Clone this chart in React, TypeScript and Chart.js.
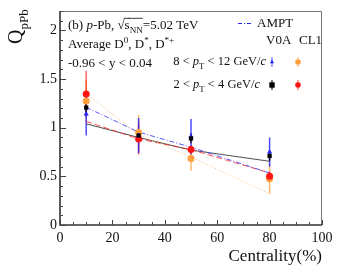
import React, { useEffect, useRef } from "react";
import { Chart, registerables } from "chart.js";

Chart.register(...registerables);

const centrality = [10, 30, 50, 80];

const v0aHigh = [1.14, 0.92, 0.91, 0.75];
const v0aHighErr = [0.22, 0.18, 0.18, 0.15];
const v0aLow = [1.207, 0.92, 0.89, 0.71];
const v0aLowErr = [0.05, 0.05, 0.05, 0.05];
const cl1High = [1.275, 0.95, 0.684, 0.475];
const cl1HighErr = [0.22, 0.18, 0.13, 0.155];
const cl1Low = [1.347, 0.885, 0.776, 0.5];
const cl1LowErr = [0.24, 0.16, 0.05, 0.05];

const lineBlack = [1.04, 0.9, 0.77, 0.655];
const lineRed = [1.065, 0.885, 0.775, 0.535];
const lineAmpt = [1.21, 0.955, 0.8, 0.535];
const lineOrange = [1.35, 0.93, 0.7, 0.32];

const xTicks = [0, 20, 40, 60, 80, 100];
const yTicks = [0, 0.5, 1, 1.5, 2];

const FONT = '"Liberation Serif", "Times New Roman", serif';
const BLUE = "rgb(40,40,255)";
const RED = "rgb(255,20,20)";
const ORANGE = "rgb(255,160,60)";
const BLACK = "rgb(0,0,0)";

type Seg = { t: string; it?: boolean; sub?: boolean; sup?: boolean; over?: boolean };

function richWidth(ctx: CanvasRenderingContext2D, segs: Seg[], size: number) {
  let w = 0;
  for (const s of segs) {
    const sz = s.sub || s.sup ? size * 0.7 : size;
    ctx.font = `${s.it ? "italic " : ""}${sz}px ${FONT}`;
    w += ctx.measureText(s.t).width;
  }
  return w;
}

function drawRich(ctx: CanvasRenderingContext2D, x: number, y: number, segs: Seg[], size: number) {
  let cx = x;
  for (const s of segs) {
    const sz = s.sub || s.sup ? size * 0.7 : size;
    ctx.font = `${s.it ? "italic " : ""}${sz}px ${FONT}`;
    const dy = s.sub ? size * 0.3 : s.sup ? -size * 0.4 : 0;
    ctx.fillText(s.t, cx, y + dy);
    const w = ctx.measureText(s.t).width;
    if (s.over) {
      ctx.save();
      ctx.lineWidth = 0.8;
      ctx.beginPath();
      ctx.moveTo(cx - 1, y - size * 0.82);
      ctx.lineTo(cx + w, y - size * 0.82);
      ctx.stroke();
      ctx.restore();
    }
    cx += w;
  }
  return cx - x;
}

const decorPlugin = {
  id: "decor",
  beforeDatasetsDraw(chart: any) {
    const ctx: CanvasRenderingContext2D = chart.ctx;
    const xs = chart.scales.x;
    const ys = chart.scales.y;
    const sets: [number[], number[], string, number][] = [
      [cl1High, cl1HighErr, "rgba(255,160,60,0.75)", 1.5],
      [cl1Low, cl1LowErr, "rgba(255,0,0,0.6)", 1.5],
      [v0aHigh, v0aHighErr, "rgba(30,30,255,0.8)", 1.5],
      [v0aLow, v0aLowErr, "rgba(0,0,0,0.8)", 1.5],
    ];
    ctx.save();
    for (const [vals, errs, col, lw] of sets) {
      ctx.strokeStyle = col;
      ctx.lineWidth = lw;
      vals.forEach((v, i) => {
        const px = xs.getPixelForValue(centrality[i]);
        ctx.beginPath();
        ctx.moveTo(px, ys.getPixelForValue(v - errs[i]));
        ctx.lineTo(px, ys.getPixelForValue(v + errs[i]));
        ctx.stroke();
      });
    }
    ctx.restore();
  },
  afterDraw(chart: any) {
    const ctx: CanvasRenderingContext2D = chart.ctx;
    const xs = chart.scales.x;
    const ys = chart.scales.y;
    const a = chart.chartArea;
    ctx.save();
    // frame
    ctx.strokeStyle = "#777";
    ctx.lineWidth = 1;
    ctx.beginPath();
    ctx.moveTo(a.left, a.top + 0.5);
    ctx.lineTo(a.right - 0.5, a.top + 0.5);
    ctx.lineTo(a.right - 0.5, a.bottom);
    ctx.stroke();
    ctx.strokeStyle = "#333";
    ctx.lineWidth = 1.6;
    ctx.beginPath();
    ctx.moveTo(a.left, a.top);
    ctx.lineTo(a.left, a.bottom);
    ctx.lineTo(a.right, a.bottom);
    ctx.stroke();
    // ticks
    ctx.lineWidth = 1;
    ctx.strokeStyle = "#444";
    for (let v = 0; v <= 100; v += 5) {
      const px = Math.round(xs.getPixelForValue(v)) + 0.5;
      const len = v % 20 === 0 ? 5 : 3;
      ctx.beginPath();
      ctx.moveTo(px, a.bottom);
      ctx.lineTo(px, a.bottom - len);
      ctx.stroke();
    }
    for (let k = 0; k <= 22; k++) {
      const v = k / 10;
      const py = Math.round(ys.getPixelForValue(v)) + 0.5;
      const len = k % 5 === 0 ? 6 : 3;
      ctx.beginPath();
      ctx.moveTo(a.left, py);
      ctx.lineTo(a.left + len, py);
      ctx.stroke();
    }
    // tick labels
    ctx.fillStyle = "#111";
    ctx.font = `14px ${FONT}`;
    ctx.textAlign = "center";
    ctx.textBaseline = "alphabetic";
    for (const v of xTicks) ctx.fillText(String(v), xs.getPixelForValue(v), a.bottom + 17);
    ctx.textAlign = "right";
    ctx.textBaseline = "middle";
    for (const v of yTicks) ctx.fillText(String(v), a.left - 3, ys.getPixelForValue(v));
    // axis titles
    ctx.textBaseline = "alphabetic";
    ctx.font = `17px ${FONT}`;
    ctx.textAlign = "right";
    ctx.fillText("Centrality(%)", a.right, a.bottom + 36);
    ctx.save();
    ctx.translate(22, 44);
    ctx.rotate(-Math.PI / 2);
    ctx.textAlign = "left";
    ctx.font = `20px ${FONT}`;
    ctx.fillText("Q", 0, 0);
    const qw = ctx.measureText("Q").width;
    ctx.font = `13px ${FONT}`;
    ctx.fillText("pPb", qw, 6);
    ctx.restore();
    // legend text
    ctx.textAlign = "left";
    ctx.fillStyle = "#111";
    ctx.strokeStyle = "#111";
    const size = 13;
    drawRich(ctx, 68, 29, [
      { t: "(b) " },
      { t: "p", it: true },
      { t: "-Pb, " },
      { t: "\u221A" },
      { t: "s", over: true },
      { t: "NN", sub: true, over: true },
      { t: "=5.02 TeV" },
    ], size);
    drawRich(ctx, 68, 48, [
      { t: "Average D" },
      { t: "0", sup: true },
      { t: ", D" },
      { t: "*", sup: true },
      { t: ", D" },
      { t: "*+", sup: true },
    ], size);
    drawRich(ctx, 68, 67, [{ t: "-0.96 < y < 0.04" }], size);
    drawRich(ctx, 257, 27, [{ t: "AMPT" }], size);
    drawRich(ctx, 266, 44, [{ t: "V0A" }], size);
    drawRich(ctx, 299, 44, [{ t: "CL1" }], size);
    const l1: Seg[] = [
      { t: "8 < " },
      { t: "p", it: true },
      { t: "T", sub: true },
      { t: " < 12 GeV/" },
      { t: "c", it: true },
    ];
    const l2: Seg[] = [
      { t: "2 < " },
      { t: "p", it: true },
      { t: "T", sub: true },
      { t: " < 4 GeV/" },
      { t: "c", it: true },
    ];
    const ls = 12.5;
    drawRich(ctx, 266 - richWidth(ctx, l1, ls), 65, l1, ls);
    drawRich(ctx, 260 - richWidth(ctx, l2, ls), 88, l2, ls);
    // AMPT line sample
    ctx.strokeStyle = BLUE;
    ctx.lineWidth = 1;
    ctx.setLineDash([4, 2, 1, 2]);
    ctx.beginPath();
    ctx.moveTo(238, 23.5);
    ctx.lineTo(253, 23.5);
    ctx.stroke();
    ctx.setLineDash([]);
    // legend markers
    const mk = (x: number, y: number, col: string, bar: string, shape: string) => {
      ctx.strokeStyle = bar;
      ctx.lineWidth = 1.3;
      ctx.beginPath();
      ctx.moveTo(x, y - 5);
      ctx.lineTo(x, y + 5);
      ctx.stroke();
      ctx.fillStyle = col;
      ctx.beginPath();
      if (shape === "rect") ctx.rect(x - 2.7, y - 2.7, 5.4, 5.4);
      else if (shape === "tri") {
        ctx.moveTo(x, y - 2.5);
        ctx.lineTo(x + 2.2, y + 1.3);
        ctx.lineTo(x - 2.2, y + 1.3);
        ctx.closePath();
      } else ctx.arc(x, y, 2.8, 0, Math.PI * 2);
      ctx.fill();
    };
    mk(272, 62, BLUE, "rgba(30,30,255,0.6)", "tri");
    mk(298, 62, ORANGE, "rgba(255,160,60,0.6)", "circ");
    mk(272, 85, BLACK, "rgba(0,0,0,0.8)", "rect");
    mk(298, 85, RED, "rgba(255,0,0,0.6)", "circ");
    ctx.restore();
  },
};

const toXY = (vals: number[]) => vals.map((v, i) => ({ x: centrality[i], y: v }));

export default function App() {
  const ref = useRef<HTMLCanvasElement | null>(null);
  useEffect(() => {
    document.body.style.margin = "0";
    if (!ref.current) return;
    const lineDs = (data: number[], color: string, dash: number[], order: number) => ({
      type: "line" as const,
      data: toXY(data),
      borderColor: color,
      borderWidth: 1,
      borderDash: dash,
      pointRadius: 0,
      fill: false,
      order,
    });
    const ptDs = (data: number[], color: string, style: string, r: number, order: number) => ({
      type: "scatter" as const,
      data: toXY(data),
      backgroundColor: color,
      borderColor: color,
      borderWidth: 0,
      pointStyle: style,
      pointRadius: r,
      showLine: false,
      order,
    });
    const chart = new Chart(ref.current, {
      type: "scatter",
      data: {
        datasets: [
          lineDs(lineBlack, "rgba(60,60,60,0.9)", [], 10),
          lineDs(lineRed, "rgba(255,40,40,0.8)", [6, 3], 9),
          lineDs(lineAmpt, "rgba(60,60,255,0.85)", [5, 2, 1, 2], 8),
          lineDs(lineOrange, "rgba(255,170,90,0.8)", [1, 2], 7),
          ptDs(cl1High, ORANGE, "circle", 3.5, 4),
          ptDs(cl1Low, RED, "circle", 3.5, 3),
          ptDs(v0aHigh, BLUE, "triangle", 3, 2),
          ptDs(v0aLow, BLACK, "rect", 3, 1),
        ] as any,
      },
      options: {
        animation: false,
        responsive: false,
        layout: { padding: { left: 60, right: 17, top: 11, bottom: 49 } },
        plugins: { legend: { display: false }, tooltip: { enabled: false } },
        scales: {
          x: { type: "linear", min: 0, max: 100, display: false },
          y: { type: "linear", min: 0, max: 2.2, display: false },
        },
      },
      plugins: [decorPlugin],
    });
    return () => chart.destroy();
  }, []);
  return (
    <div style={{ width: 339, height: 274, background: "#fff" }}>
      <canvas ref={ref} width={339} height={274} />
    </div>
  );
}
